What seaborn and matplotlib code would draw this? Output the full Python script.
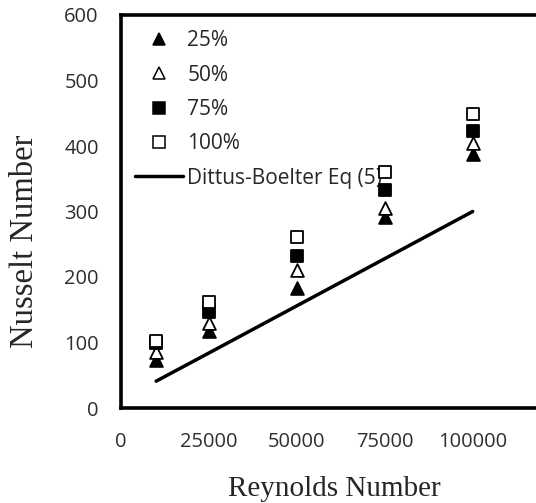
import matplotlib
matplotlib.use("Agg")
import matplotlib.pyplot as plt
import seaborn as sns
import pandas as pd
from matplotlib.lines import Line2D

reynolds = [10000, 25000, 50000, 75000, 100000]
nu_25 = [73, 117, 183, 291, 388]
nu_50 = [85, 130, 210, 305, 405]
nu_75 = [100, 147, 232, 333, 423]
nu_100 = [103, 162, 261, 360, 449]
dittus = [41, 84, 156, 228, 300]
series_names = ["25%", "50%", "75%", "100%"]
line_name = "Dittus-Boelter Eq (5)"
x_ticks = [0, 25000, 50000, 75000, 100000]
y_ticks = [0, 100, 200, 300, 400, 500, 600]

sns.set_style("white")
tick_font = "Open Sans"
label_font = "Liberation Serif"

fig = plt.figure(figsize=(5.36, 5.03), dpi=100)
ax = fig.add_axes([121/536, 95/503, (543-121)/536, (408-15)/503])

styles = [
    (nu_25, "^", "black"),
    (nu_50, "^", "white"),
    (nu_75, "s", "black"),
    (nu_100, "s", "white"),
]
handles = []
for (vals, mk, fc), name in zip(styles, series_names):
    df = pd.DataFrame({"Re": reynolds, "Nu": vals})
    sns.scatterplot(data=df, x="Re", y="Nu", marker=mk, s=85, color=fc,
                    edgecolor="black", linewidth=1.3, ax=ax, zorder=3, legend=False)
    handles.append(Line2D([], [], linestyle="none", marker=mk, markersize=8,
                          markerfacecolor=fc, markeredgecolor="black",
                          markeredgewidth=1.1, label=name))

dl = pd.DataFrame({"Re": reynolds, "Nu": dittus})
sns.lineplot(data=dl, x="Re", y="Nu", color="black", linewidth=2.5, ax=ax, zorder=2)
handles.append(Line2D([], [], color="black", linewidth=2.5, label=line_name))

ax.set_xlim(0, 120000)
ax.set_ylim(0, 600)
ax.set_xticks(x_ticks)
ax.set_yticks(y_ticks)
ax.set_xticklabels([str(t) for t in x_ticks], fontfamily=tick_font, fontsize=14.5)
ax.set_yticklabels([str(t) for t in y_ticks], fontfamily=tick_font, fontsize=14.5)
ax.tick_params(axis="both", direction="in", length=7, width=2.4, colors="black",
               labelcolor="#2e2e2e")
ax.tick_params(axis="x", pad=17)
ax.tick_params(axis="y", pad=16)

for sp in ax.spines.values():
    sp.set_linewidth(2.6)
    sp.set_color("black")

ax.set_xlabel("Reynolds Number", fontfamily=label_font, fontsize=21, color="#262626")
ax.set_ylabel("Nusselt Number", fontfamily=label_font, fontsize=23.5, color="#262626")
ax.xaxis.set_label_coords((334-121)/(543-121), -(489-408)/393)
ax.yaxis.set_label_coords(-(121-25)/(543-121), (408-241)/393)
ax.xaxis.label.set_verticalalignment("center")
ax.yaxis.label.set_verticalalignment("center")

leg = ax.legend(handles=handles, loc="upper left", frameon=False,
                prop={"family": tick_font, "size": 15},
                handlelength=2.3, handletextpad=0.2, labelspacing=0.64,
                borderpad=0.4, borderaxespad=0.0,
                bbox_to_anchor=((127-121)/422, 1-(22-15)/393))
leg.set_zorder(1)
for t in leg.get_texts():
    t.set_color("#262626")

fig.savefig("out.png", dpi=100)
